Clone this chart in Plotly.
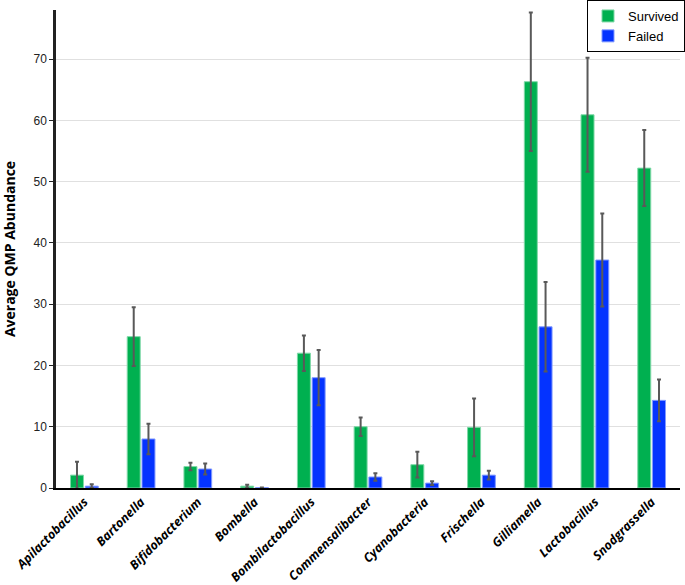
import plotly.graph_objects as go

genera = ["Apilactobacillus", "Bartonella", "Bifidobacterium", "Bombella",
          "Bombilactobacillus", "Commensalibacter", "Cyanobacteria", "Frischella",
          "Gilliamella", "Lactobacillus", "Snodgrassella"]
survived = [2.1, 24.7, 3.5, 0.3, 22.0, 10.0, 3.8, 9.9, 66.3, 60.9, 52.2]
survived_err = [2.2, 4.8, 0.6, 0.25, 2.9, 1.5, 2.1, 4.7, 11.3, 9.3, 6.2]
failed = [0.3, 8.0, 3.1, 0.05, 18.0, 1.8, 0.8, 2.1, 26.3, 37.2, 14.3]
failed_err = [0.3, 2.5, 0.9, 0.05, 4.5, 0.6, 0.3, 0.7, 7.3, 7.6, 3.4]

ticks = [0, 10, 20, 30, 40, 50, 60, 70]


def err(vals):
    return dict(type="data", array=vals, color="#595959", thickness=2, width=2)


fig = go.Figure()
fig.add_trace(go.Bar(x=genera, y=survived, name="Survived",
                     marker=dict(color="#00B050", line=dict(color="#7fd8a7", width=1)),
                     error_y=err(survived_err)))
fig.add_trace(go.Bar(x=genera, y=failed, name="Failed",
                     marker=dict(color="#0433FF", line=dict(color="#8099ff", width=1)),
                     error_y=err(failed_err)))

fig.update_layout(
    width=685, height=585,
    margin=dict(l=56, r=5, t=10, b=97, autoexpand=False),
    paper_bgcolor="white", plot_bgcolor="white",
    barmode="group", bargap=0.48, bargroupgap=0.12,
    font=dict(family="Liberation Sans, sans-serif", size=12, color="#222"),
    legend=dict(x=1.0, y=1.0, xanchor="right", yanchor="top",
                xref="container", yref="container",
                bordercolor="black", borderwidth=1, bgcolor="white",
                font=dict(family="Liberation Sans", size=13, color="black"),
                itemwidth=30, tracegroupgap=2),
    xaxis=dict(tickangle=-45, showline=True, linecolor="black", linewidth=1.5,
               automargin=False,
               tickfont=dict(family="Open Sans, sans-serif", size=12.5,
                             color="black", weight="bold", style="italic"),
               ticks="", showgrid=False),
    yaxis=dict(range=[0, 78], tickvals=ticks, showline=True, linecolor="#222",
               linewidth=2.5, ticks="outside", ticklen=4, tickcolor="#222",
               gridcolor="#e0e0e0", gridwidth=1, zeroline=False, automargin=False,
               tickfont=dict(size=12, color="#222"),
               title=dict(text="Average QMP Abundance", standoff=16,
                          font=dict(family="Open Sans", size=14, color="black",
                                    weight="bold"))),
)

# the page body has a default 8px margin; drop it so the figure fills the window
fig.write_html("out.html", config={"displayModeBar": False},
               post_script="document.body.style.margin='0';")
